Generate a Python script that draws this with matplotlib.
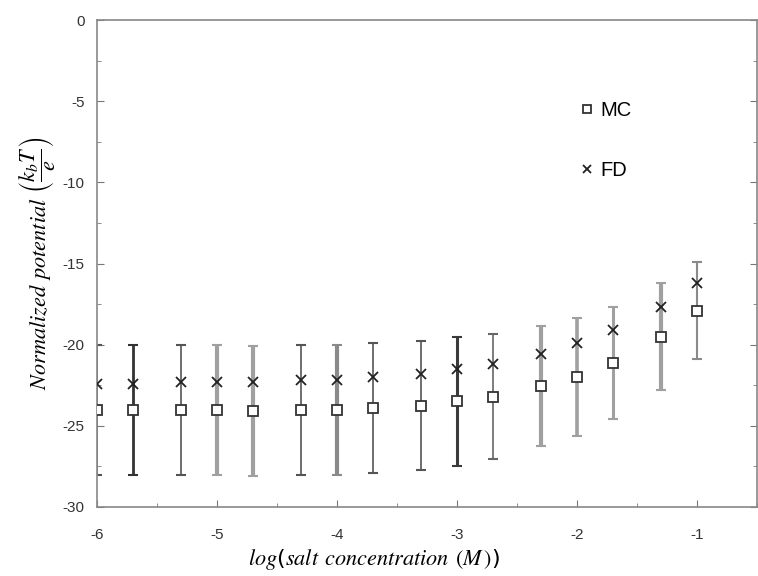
import matplotlib
matplotlib.use("Agg")
import matplotlib.pyplot as plt
from matplotlib.ticker import MultipleLocator

plt.rcParams['mathtext.fontset'] = 'stix'
plt.rcParams['axes.unicode_minus'] = False

# ---- data ----
log_conc = [-6, -5.7, -5.3, -5, -4.7, -4.3, -4, -3.7, -3.3, -3, -2.7, -2.3, -2, -1.7, -1.3, -1]
mc_vals = [-24.0, -24.0, -24.0, -24.0, -24.1, -24.0, -24.0, -23.9, -23.75, -23.5, -23.2, -22.55, -22.0, -21.1, -19.5, -17.9]
mc_err = [4.0, 4.0, 4.0, 4.0, 4.0, 4.0, 4.0, 4.0, 4.0, 3.95, 3.85, 3.7, 3.65, 3.45, 3.3, 3.0]
fd_vals = [-22.4, -22.4, -22.3, -22.3, -22.3, -22.2, -22.15, -22.0, -21.8, -21.5, -21.2, -20.55, -19.9, -19.1, -17.7, -16.2]
xticks = [-6, -5, -4, -3, -2, -1]
yticks = [0, -5, -10, -15, -20, -25, -30]

# per-bar rendering style (scan appearance)
bar_lw = [1.2, 2.0, 1.2, 3.0, 3.0, 1.2, 3.0, 1.2, 1.2, 2.2, 1.2, 3.0, 2.6, 2.2, 3.0, 1.5]
bar_col = ['#555555', '#333333', '#555555', '#a0a0a0', '#a0a0a0', '#555555', '#8a8a8a', '#555555',
           '#555555', '#3a3a3a', '#666666', '#a0a0a0', '#a0a0a0', '#a0a0a0', '#a0a0a0', '#8a8a8a']

fig = plt.figure(figsize=(7.58, 5.76), dpi=100)
ax = fig.add_axes([97/758, 1-507/576, 660/758, 487/576])

for x, y, e, lw, c in zip(log_conc, mc_vals, mc_err, bar_lw, bar_col):
    ax.errorbar([x], [y], yerr=[e], fmt='none', ecolor=c, elinewidth=lw,
                capsize=3.5, capthick=1.5, zorder=2)

ax.plot(log_conc, mc_vals, linestyle='none', marker='s', markersize=7.5,
        markerfacecolor='white', markeredgecolor='#333333', markeredgewidth=1.3,
        label='MC', zorder=3)
ax.plot(log_conc, fd_vals, linestyle='none', marker='x', markersize=7.5,
        color='#222222', markeredgewidth=1.3, label='FD', zorder=3)

ax.set_xlim(-6, -0.5)
ax.set_ylim(-30, 0)
ax.set_xticks(xticks)
ax.set_yticks(yticks)
ax.xaxis.set_minor_locator(MultipleLocator(0.5))
ax.yaxis.set_minor_locator(MultipleLocator(2.5))
ax.tick_params(axis='both', which='both', direction='in', colors='#777777',
               labelcolor='#333333', labelsize=11, right=True)
ax.tick_params(axis='both', which='major', length=5)
ax.tick_params(axis='y', which='major', pad=9)
ax.tick_params(axis='x', which='major', pad=15)
ax.tick_params(axis='both', which='minor', length=3)
for lbl in ax.get_xticklabels() + ax.get_yticklabels():
    lbl.set_family('Liberation Sans')

for sp in ax.spines.values():
    sp.set_color('#888888')
    sp.set_linewidth(1.2)

ax.set_xlabel('$log$($salt$ $concentration$ $(M\\,)$)', fontsize=16, labelpad=10)
ax.xaxis.set_label_coords(0.42, -0.083)
ax.set_ylabel('$Normalized$ $potential$ $\\left(\\dfrac{k_bT}{e}\\right)$', fontsize=16, labelpad=4)

leg = ax.legend(loc='upper left', bbox_to_anchor=(0.703, 0.87), frameon=False,
                markerscale=0.8, handlelength=0.8, handletextpad=0.25,
                labelspacing=2.0, prop={'family': 'Liberation Sans', 'size': 14.5})

fig.savefig('out.png', dpi=100)
